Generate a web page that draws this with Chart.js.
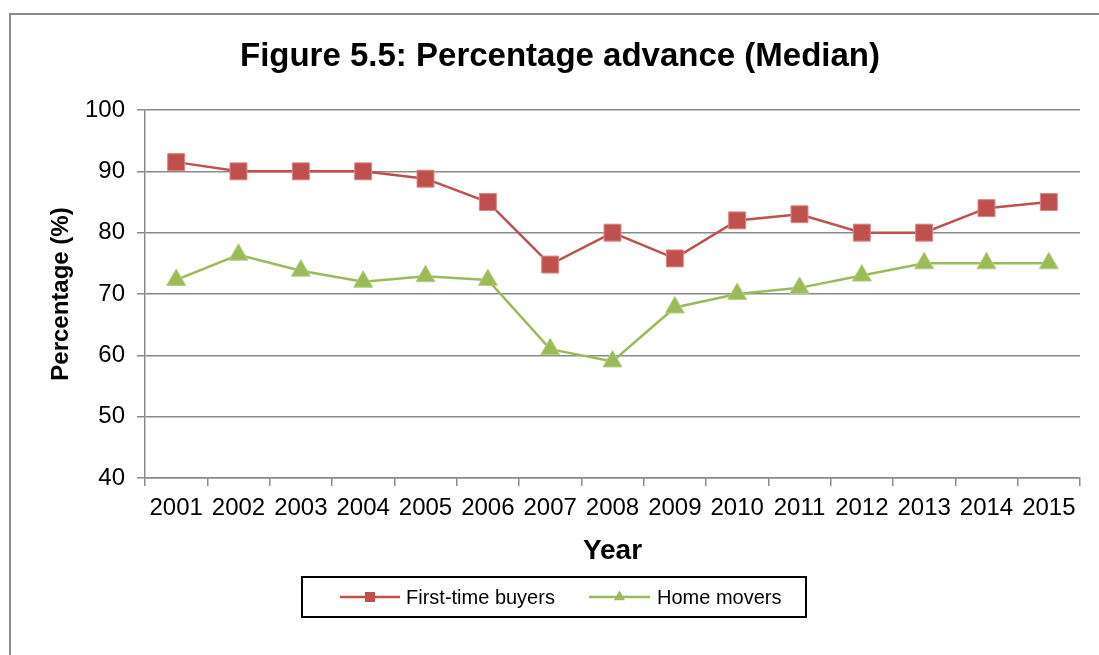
<!DOCTYPE html>
<html>
<head>
<meta charset="utf-8">
<script src="https://cdn.jsdelivr.net/npm/chart.js@4/dist/chart.umd.min.js"></script>
<style>
  html, body { margin: 0; padding: 0; background: #ffffff; }
  #wrap { width: 1099px; height: 655px; position: relative; }
</style>
</head>
<body>
<div id="wrap"><canvas id="c" width="1099" height="655"></canvas></div>
<script>
const years = ['2001','2002','2003','2004','2005','2006','2007','2008','2009','2010','2011','2012','2013','2014','2015'];
const firstTimeBuyers = [91.5, 90, 90, 90, 88.8, 85, 74.8, 80, 75.8, 82, 83, 80, 80, 84, 85];
const homeMovers = [72.3, 76.4, 73.8, 72, 72.9, 72.3, 61, 59, 67.8, 70, 71, 73, 75, 75, 75];
const seriesNames = ['First-time buyers', 'Home movers'];
const titleText = 'Figure 5.5: Percentage advance (Median)';
const yTitle = 'Percentage (%)';
const xTitle = 'Year';

const RED = '#C0504D';
const GREEN = '#9BBB59';
const GRID = '#8a8a8a';
const FONT = "'Liberation Sans', Arial, sans-serif";

const frame = {
  id: 'frame',
  beforeDraw(chart) {
    const ctx = chart.ctx;
    ctx.save();
    ctx.fillStyle = '#ffffff';
    ctx.fillRect(0, 0, chart.width, chart.height);
    ctx.strokeStyle = '#8c8c8c';
    ctx.lineWidth = 2;
    ctx.strokeRect(10, 14, chart.width + 50, chart.height + 50);
    ctx.restore();
  }
};

const boxLegend = {
  id: 'boxLegend',
  afterDraw(chart) {
    const ctx = chart.ctx;
    const bx = 302, by = 577, bw = 504, bh = 40;
    ctx.save();
    ctx.strokeStyle = '#000000';
    ctx.lineWidth = 2;
    ctx.strokeRect(bx, by, bw, bh);
    const cy = by + bh / 2;
    const items = [
      { x0: 340, x1: 400, tx: 406 },
      { x0: 589, x1: 650, tx: 657 }
    ];
    chart.data.datasets.forEach((ds, i) => {
      const it = items[i];
      ctx.strokeStyle = ds.borderColor;
      ctx.lineWidth = 2.5;
      ctx.beginPath();
      ctx.moveTo(it.x0, cy);
      ctx.lineTo(it.x1, cy);
      ctx.stroke();
      ctx.fillStyle = ds.backgroundColor;
      ctx.beginPath();
      const mx = (it.x0 + it.x1) / 2;
      if (ds.pointStyle === 'rect') {
        const s = 5;
        ctx.rect(mx - s, cy - s, 2 * s, 2 * s);
      } else {
        const r = 6.5;
        ctx.moveTo(mx, cy - r);
        ctx.lineTo(mx + r * 0.866, cy + r / 2);
        ctx.lineTo(mx - r * 0.866, cy + r / 2);
        ctx.closePath();
      }
      ctx.fill();
      ctx.fillStyle = '#000000';
      ctx.font = '20px ' + FONT;
      ctx.textBaseline = 'middle';
      ctx.textAlign = 'left';
      ctx.fillText(ds.label, it.tx, cy + 1);
    });
    ctx.restore();
  }
};

new Chart(document.getElementById('c'), {
  type: 'line',
  data: {
    labels: years,
    datasets: [
      {
        label: seriesNames[0],
        data: firstTimeBuyers,
        borderColor: RED,
        backgroundColor: RED,
        borderWidth: 2.5,
        pointStyle: 'rect',
        pointRadius: 12,
        pointHoverRadius: 12,
        pointBorderWidth: 1,
        pointBorderColor: '#d88a88',
        pointBackgroundColor: RED,
        tension: 0
      },
      {
        label: seriesNames[1],
        data: homeMovers,
        borderColor: GREEN,
        backgroundColor: GREEN,
        borderWidth: 2.5,
        pointStyle: 'triangle',
        pointRadius: 11,
        pointHoverRadius: 11,
        pointBorderWidth: 1,
        pointBorderColor: '#b5cf86',
        pointBackgroundColor: GREEN,
        tension: 0
      }
    ]
  },
  options: {
    responsive: false,
    animation: false,
    devicePixelRatio: 1,
    layout: { padding: { left: 40, right: 19, top: 0, bottom: 87 } },
    plugins: {
      legend: { display: false },
      tooltip: { enabled: false },
      title: {
        display: true,
        text: titleText,
        color: '#000000',
        font: { family: FONT, size: 33, weight: 'bold', lineHeight: 1.2 },
        padding: { top: 37, bottom: 33.4 }
      }
    },
    scales: {
      x: {
        type: 'category',
        offset: true,
        afterFit(scale) { scale.height = 90; },
        grid: {
          offset: true,
          drawOnChartArea: false,
          drawTicks: true,
          tickLength: 8,
          color: GRID,
          lineWidth: 1.5
        },
        border: { display: true, color: GRID, width: 1.5 },
        ticks: {
          color: '#000000',
          font: { family: FONT, size: 24 },
          padding: 8,
          maxRotation: 0,
          minRotation: 0,
          autoSkip: false
        },
        title: {
          display: true,
          text: xTitle,
          color: '#000000',
          font: { family: FONT, size: 28, weight: 'bold', lineHeight: 1.2 },
          padding: { top: 0, bottom: 0 }
        }
      },
      y: {
        min: 40,
        max: 100,
        afterFit(scale) { scale.width = 105; },
        grid: {
          color: GRID,
          lineWidth: 1.5,
          drawTicks: true,
          tickLength: 8
        },
        border: { display: true, color: GRID, width: 1.5 },
        ticks: {
          stepSize: 10,
          color: '#000000',
          font: { family: FONT, size: 24 },
          padding: 12
        },
        title: {
          display: true,
          text: yTitle,
          color: '#000000',
          font: { family: FONT, size: 24, weight: 'bold', lineHeight: 1.2 },
          padding: { top: 7, bottom: 0 }
        }
      }
    }
  },
  plugins: [frame, boxLegend]
});
</script>
</body>
</html>
